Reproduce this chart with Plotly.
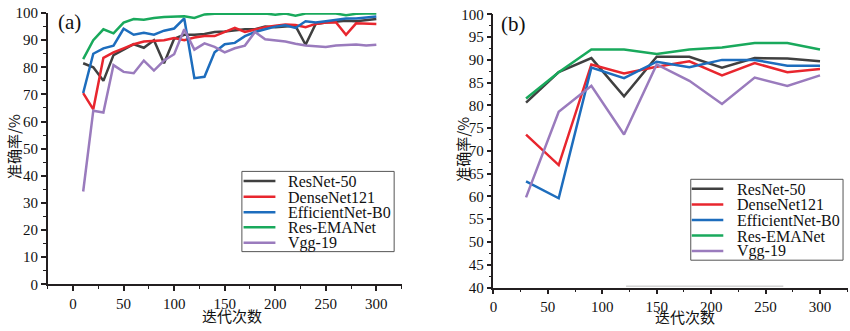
import plotly.graph_objects as go

# ---------------- data ----------------
series_names = ["ResNet-50", "DenseNet121", "EfficientNet-B0", "Res-EMANet", "Vgg-19"]
series_colors = ["#404040", "#e8262e", "#1d6dbd", "#19a95c", "#9a7bbd"]

# (a) accuracy every 10 iterations
iters_a = [10, 20, 30, 40, 50, 60, 70, 80, 90, 100,
           110, 120, 130, 140, 150, 160, 170, 180, 190, 200,
           210, 220, 230, 240, 250, 260, 270, 280, 290, 300]
resnet_a = [81.5, 80.0, 75.0, 84.5, 86.5, 88.5, 87.2, 90.0, 81.5, 90.5,
            92.0, 92.0, 92.3, 93.0, 93.2, 93.5, 94.0, 94.0, 95.0, 94.8,
            95.0, 95.3, 88.3, 96.0, 96.5, 96.8, 97.2, 97.0, 97.4, 97.8]
densenet_a = [70.5, 64.5, 83.5, 85.5, 87.0, 88.5, 89.5, 89.8, 90.0, 90.8,
              90.0, 91.0, 91.5, 91.5, 93.0, 94.5, 93.0, 93.8, 94.8, 95.3,
              95.8, 95.6, 94.8, 96.0, 96.5, 96.6, 92.0, 96.2, 96.2, 96.0]
efficient_a = [70.5, 85.0, 87.0, 88.0, 94.2, 92.0, 92.7, 92.0, 93.5, 94.3,
               98.0, 76.0, 76.5, 85.5, 88.5, 89.0, 91.5, 93.0, 94.0, 95.0,
               95.5, 94.5, 97.0, 96.5, 97.0, 97.5, 98.0, 98.0, 98.4, 98.7]
emanet_a = [83.0, 90.0, 94.0, 92.5, 96.5, 97.8, 97.5, 98.2, 98.5, 98.6,
            98.8, 98.2, 99.5, 99.7, 99.7, 99.6, 99.8, 99.8, 99.8, 99.4,
            99.8, 99.0, 99.8, 99.8, 99.9, 99.8, 99.2, 99.7, 99.8, 99.8]
vgg_a = [34.2, 64.0, 63.3, 80.8, 78.3, 77.8, 82.5, 78.8, 82.5, 84.8,
         94.0, 86.5, 88.8, 87.5, 85.5, 87.0, 88.0, 93.0, 90.3, 90.0,
         89.5, 88.7, 88.0, 87.8, 87.5, 88.0, 88.3, 88.4, 88.0, 88.3]

# (b) accuracy every 30 iterations
iters_b = [30, 60, 90, 120, 150, 180, 210, 240, 270, 300]
resnet_b = [80.6, 87.3, 90.4, 82.0, 90.7, 90.7, 88.3, 90.4, 90.3, 89.7]
densenet_b = [73.6, 66.9, 89.0, 87.0, 88.5, 89.7, 86.6, 89.3, 87.3, 88.0]
efficient_b = [63.3, 59.6, 88.3, 86.0, 89.6, 88.4, 90.0, 90.0, 88.7, 88.7]
emanet_b = [81.5, 87.3, 92.3, 92.3, 91.3, 92.3, 92.7, 93.7, 93.7, 92.3]
vgg_b = [59.8, 78.6, 84.3, 73.6, 89.0, 85.4, 80.3, 86.1, 84.3, 86.6]

panel_a = [resnet_a, densenet_a, efficient_a, emanet_a, vgg_a]
panel_b = [resnet_b, densenet_b, efficient_b, emanet_b, vgg_b]

y_ticks_a = [0, 10, 20, 30, 40, 50, 60, 70, 80, 90, 100]
y_ticks_b = [40, 45, 50, 55, 60, 65, 70, 75, 80, 85, 90, 95, 100]
x_ticks = [0, 50, 100, 150, 200, 250, 300]

# ---------------- figure ----------------
W, H = 850, 331
SERIF = "Liberation Serif, Times New Roman, serif"
CJK = "Noto Sans CJK SC"
AXIS_COLOR = "#231f20"


def px(x):
    return x / W


def py(y):
    return 1 - y / H


fig = go.Figure()

for name, color, ys in zip(series_names, series_colors, panel_a):
    fig.add_trace(go.Scatter(x=iters_a, y=ys, mode="lines", name=name,
                             line=dict(color=color, width=2.5),
                             xaxis="x", yaxis="y", showlegend=False))
for name, color, ys in zip(series_names, series_colors, panel_b):
    fig.add_trace(go.Scatter(x=iters_b, y=ys, mode="lines", name=name,
                             line=dict(color=color, width=2.5),
                             xaxis="x2", yaxis="y2", showlegend=False))


def axis_style(tickvals, minor_dtick, minor_tick0, rng, domain, anchor):
    return dict(
        range=rng, domain=domain, anchor=anchor,
        tickmode="array", tickvals=tickvals, ticktext=[str(v) for v in tickvals],
        ticklabeloverflow="allow",
        showline=True, linecolor=AXIS_COLOR, linewidth=1.5,
        ticks="outside", ticklen=5, tickwidth=1.5, tickcolor=AXIS_COLOR,
        minor=dict(tickmode="linear", tick0=minor_tick0, dtick=minor_dtick,
                   ticks="outside", ticklen=3, tickwidth=1.2,
                   tickcolor=AXIS_COLOR, showgrid=False),
        showgrid=False, zeroline=False,
        tickfont=dict(family=SERIF, size=15, color="#111111"),
    )


fig.update_layout(
    width=W, height=H,
    margin=dict(l=0, r=0, t=0, b=0),
    paper_bgcolor="white", plot_bgcolor="white",
    showlegend=False,
    xaxis=axis_style(x_ticks, 25, 0, [-25, 325.5], [px(44), px(400)], "y"),
    yaxis=axis_style(y_ticks_a, 5, 0, [0, 100], [py(290.3), py(5.3)], "x"),
    xaxis2=axis_style(x_ticks, 25, 0, [0, 326], [px(491.7), px(848.3)], "y2"),
    yaxis2=axis_style(y_ticks_b, 2.5, 40, [40, 100], [py(293.7), py(6.7)], "x2"),
)

annotations = []
shapes = []

# panel labels
annotations.append(dict(text="(a)", x=px(65.5), y=py(14.5), xref="paper", yref="paper",
                        showarrow=False, xanchor="center", yanchor="middle",
                        font=dict(family=SERIF, size=21, color="#111111")))
annotations.append(dict(text="(b)", x=px(512), y=py(16.5), xref="paper", yref="paper",
                        showarrow=False, xanchor="center", yanchor="middle",
                        font=dict(family=SERIF, size=21, color="#111111")))

# axis titles
for (tx, ty) in [(10, 145), (461, 148)]:
    annotations.append(dict(text="准确率/%", x=px(tx), y=py(ty), xref="paper", yref="paper",
                            showarrow=False, textangle=-90, xanchor="center", yanchor="middle",
                            font=dict(family=CJK, size=15, color="#111111")))
for (tx, ty) in [(229, 323), (684, 324)]:
    annotations.append(dict(text="迭代次数", x=px(tx), y=py(ty), xref="paper", yref="paper",
                            showarrow=False, xanchor="center", yanchor="middle",
                            font=dict(family=CJK, size=15, color="#111111")))

# legend boxes with line samples and labels
legend_boxes = [
    dict(box=(239, 171.7, 392, 256), line_x=(240.7, 272.7), text_x=283,
         rows=[181.7, 198.3, 214.5, 230.3, 246.7]),
    dict(box=(690, 180, 843, 265), line_x=(691, 722.7), text_x=734,
         rows=[190, 206.5, 222.7, 239.1, 255.3]),
]
for lb in legend_boxes:
    x0, y0, x1, y1 = lb["box"]
    shapes.append(dict(type="rect", xref="paper", yref="paper",
                       x0=px(x0), x1=px(x1), y0=py(y0), y1=py(y1),
                       line=dict(color="#555555", width=1), fillcolor="rgba(0,0,0,0)"))
    for name, color, ry in zip(series_names, series_colors, lb["rows"]):
        shapes.append(dict(type="line", xref="paper", yref="paper",
                           x0=px(lb["line_x"][0]), x1=px(lb["line_x"][1]),
                           y0=py(ry), y1=py(ry),
                           line=dict(color=color, width=2.5)))
        annotations.append(dict(text=name, x=px(lb["text_x"]), y=py(ry + 0.5),
                                xref="paper", yref="paper", showarrow=False,
                                xanchor="left", yanchor="middle",
                                font=dict(family=SERIF, size=16, color="#111111")))

# faint stray rule near the bottom of panel (b)
shapes.append(dict(type="line", xref="paper", yref="paper",
                   x0=px(625), x1=px(783), y0=py(292.3), y1=py(292.3),
                   line=dict(color="#bdbdbd", width=1)))

fig.update_layout(annotations=annotations, shapes=shapes)

fig.write_html("out.html")
